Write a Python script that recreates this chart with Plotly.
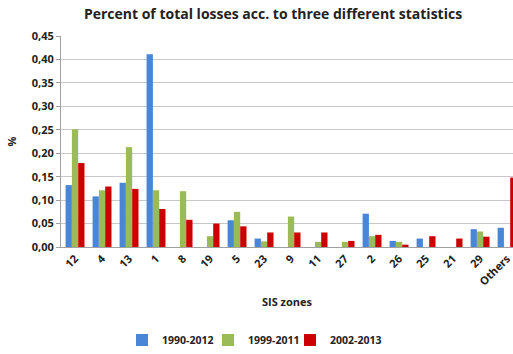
import plotly.graph_objects as go

categories = ["12", "4", "13", "1", "8", "19", "5", "23", "9", "11", "27", "2", "26", "25", "21", "29", "Others"]
s1990 = [0.132, 0.108, 0.137, 0.411, 0.0, 0.0, 0.057, 0.018, 0.0, 0.0, 0.0, 0.071, 0.013, 0.018, 0.0, 0.038, 0.041]
s1999 = [0.251, 0.121, 0.213, 0.121, 0.119, 0.023, 0.075, 0.012, 0.065, 0.011, 0.011, 0.023, 0.011, 0.0, 0.0, 0.033, 0.0]
s2002 = [0.179, 0.129, 0.124, 0.081, 0.058, 0.050, 0.044, 0.031, 0.031, 0.031, 0.013, 0.026, 0.005, 0.023, 0.018, 0.022, 0.148]
series_names = ["1990-2012", "1999-2011", "2002-2013"]
colors = ["#4A86D8", "#9BBB59", "#CC0000"]
yticks = [0, 0.05, 0.10, 0.15, 0.20, 0.25, 0.30, 0.35, 0.40, 0.45]

font_family = "Open Sans, Liberation Sans, sans-serif"
txt = "#222222"

legend_ids = ["legend", "legend2", "legend3"]
legend_left_px = [122, 208, 290]

fig = go.Figure()
for name, vals, col, lid in zip(series_names, [s1990, s1999, s2002], colors, legend_ids):
    fig.add_trace(go.Bar(x=list(range(len(categories))), y=vals, name=name, legend=lid,
                         marker=dict(color=col, line=dict(width=0))))

legend_common = dict(orientation="h", xanchor="left", xref="container",
                     y=1 - 340/354, yanchor="middle", yref="container",
                     font=dict(size=10.5, color=txt, weight="bold"),
                     bgcolor="rgba(0,0,0,0)", itemwidth=30)

fig.update_layout(
    width=513, height=354,
    margin=dict(l=61, r=0, t=36, b=107),
    paper_bgcolor="white", plot_bgcolor="white",
    barmode="group", bargap=0.3, bargroupgap=0,
    separators=", ",
    font=dict(family=font_family, color=txt),
    title=dict(text="Percent of total losses acc. to three different statistics",
               x=273/513, xanchor="center", xref="container",
               y=1 - 14/354, yanchor="middle", yref="container",
               font=dict(size=14, color=txt, weight="bold")),
    showlegend=True,
    xaxis=dict(
        tickmode="array", tickvals=list(range(len(categories))),
        ticktext=categories,
        tickangle=-45, tickfont=dict(size=11, color=txt, weight="bold"),
        ticklabeloverflow="allow",
        range=[-0.52, 16.22],
        showline=True, linecolor="#A0A0A0", linewidth=1,
        ticks="", showgrid=False, zeroline=False,
        title=dict(text="SIS zones", font=dict(size=11, color=txt, weight="bold"), standoff=10),
    ),
    yaxis=dict(
        range=[0, 0.45], tickvals=yticks, tickformat=".2f",
        tickfont=dict(size=11, color=txt, weight="bold"),
        showgrid=True, gridcolor="#C8C8C8", gridwidth=1,
        showline=True, linecolor="#A0A0A0", linewidth=1,
        ticks="outside", ticklen=4, tickcolor="#A0A0A0",
        zeroline=False,
        title=dict(text="%", font=dict(size=11, color=txt, weight="bold"), standoff=12),
    ),
)
for lid, lx in zip(legend_ids, legend_left_px):
    fig.update_layout({lid: dict(legend_common, x=lx/513)})

fig.write_html("out.html")
